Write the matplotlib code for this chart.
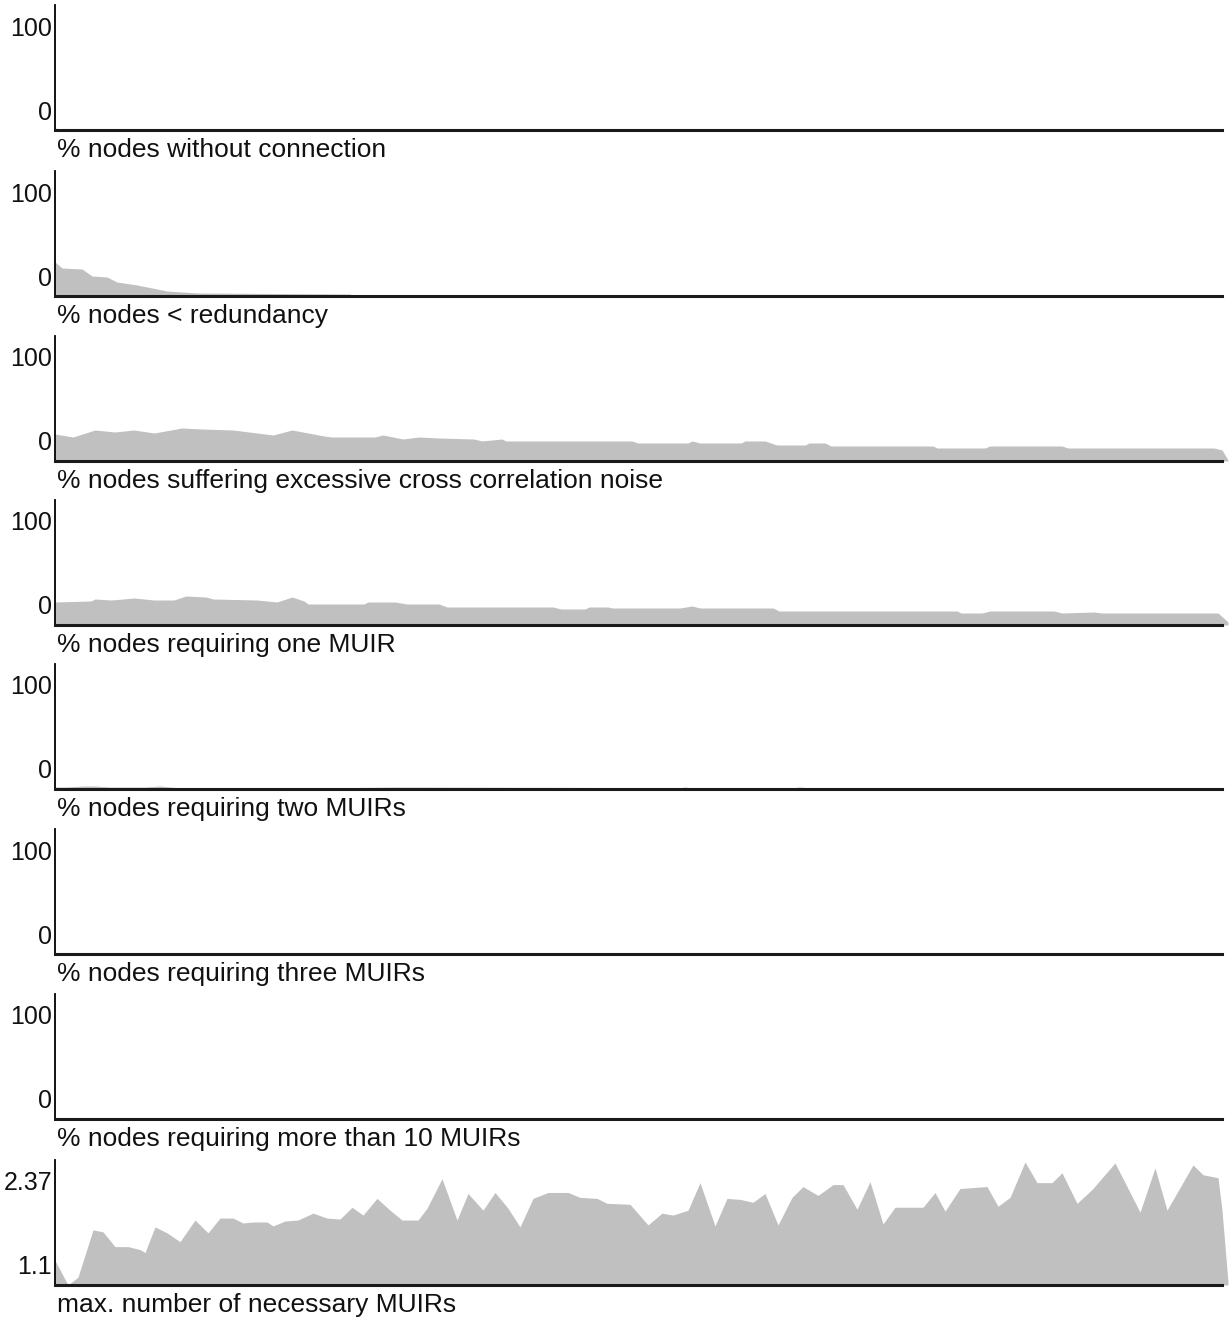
import numpy as np
import matplotlib
matplotlib.use('Agg')
import matplotlib.pyplot as plt

# ---- data (x = simulation step) ----
conn_x = [0, 0.5, 7.5, 8.0, 11.0, 12.0, 13.0, 117.3]
conn_y = [1.6, 0.8, 0.8, 0.0, 0.0, 1.2, 0.0, 0.0]

red_x = [0, 0.7, 2.7, 3.7, 5.2, 6.2, 8.2, 10.2, 11.2, 14.2, 29.5, 29.8, 117.3]
red_y = [27.2, 22.4, 21.6, 16.0, 15.2, 11.2, 8.8, 5.6, 4.0, 2.4, 1.6, 0.0, 0.0]

noise_x = [0, 1.8, 4.0, 6.0, 7.9, 9.9, 12.7, 14.7, 17.8, 21.8, 23.7, 26.9, 27.7,
           32.0, 32.8, 34.8, 36.4, 38.4, 41.9, 42.7, 44.7, 45.1, 57.7, 58.3, 63.3,
           63.7, 64.5, 68.6, 69.0, 71.0, 72.2, 75.0, 75.4, 77.0, 77.6, 87.8, 88.2,
           93.0, 93.5, 100.7, 101.3, 115.9, 116.7, 117.3]
noise_y = [21.6, 19.2, 24.8, 23.2, 24.8, 22.4, 26.4, 25.6, 24.8, 20.8, 24.8, 20.0, 19.2,
           19.2, 20.8, 17.6, 19.2, 18.4, 17.6, 16.0, 17.6, 16.0, 16.0, 14.4, 14.4,
           16.0, 14.4, 14.4, 16.0, 16.0, 12.8, 12.8, 14.4, 14.4, 12.0, 12.0, 10.4,
           10.4, 12.0, 12.0, 10.4, 10.4, 8.8, 0.8]

one_x = [0, 3.6, 4.0, 5.6, 6.8, 7.9, 9.9, 11.9, 13.1, 15.1, 15.8, 20.2, 22.2, 23.7,
         24.9, 25.3, 30.9, 31.3, 34.0, 35.2, 38.4, 39.2, 41.9, 42.7, 49.8, 50.6,
         53.0, 53.4, 55.3, 55.7, 62.5, 63.7, 64.5, 71.8, 72.4, 90.2, 90.6, 92.7,
         93.5, 99.9, 100.7, 103.9, 104.7, 116.3, 117.3]
one_y = [18.4, 19.2, 20.8, 20.0, 20.8, 21.6, 20.0, 20.0, 23.2, 22.4, 20.8, 20.0, 18.4,
         22.4, 19.2, 16.8, 16.8, 18.4, 18.4, 16.8, 16.8, 14.4, 14.4, 14.4, 14.4,
         12.8, 12.8, 14.4, 14.4, 13.6, 13.6, 15.2, 13.6, 13.6, 11.2, 11.2, 9.6, 9.6,
         11.2, 11.2, 9.6, 10.4, 9.6, 9.6, 2.4]

two_x = [0, 1.0, 3.0, 4.0, 5.5, 9.0, 10.5, 12.0, 30.0, 34.0, 55.5, 56.0, 62.0, 63.0,
         64.0, 73.0, 74.5, 76.0, 117.3]
two_y = [1.6, 1.6, 2.4, 2.4, 1.6, 1.6, 2.4, 1.2, 1.2, 1.6, 1.2, 0.4, 0.4, 1.6,
         0.4, 0.4, 1.6, 0.4, 0.0]

three_x = [0, 2.5, 3.5, 5.0, 7.5, 8.5, 10.0, 63.0, 64.5, 66.0, 117.3]
three_y = [0.4, 0.4, 1.0, 0.4, 0.4, 1.0, 0.4, 0.2, 0.8, 0.2, 0.0]

ten_x = [0, 117.3]
ten_y = [0.0, 0.0]

max_x = [0.0, 1.3, 2.3, 3.8, 4.8, 6.0, 7.3, 8.5, 9.0, 10.0, 11.2, 12.5, 14.0, 15.3,
         16.5, 17.8, 18.8, 19.8, 21.2, 21.8, 23.0, 24.3, 25.8, 27.2, 28.5, 29.7,
         30.8, 32.2, 33.5, 34.7, 36.3, 37.2, 38.7, 40.2, 41.3, 42.8, 44.0, 45.3,
         46.5, 47.8, 49.3, 51.3, 52.5, 54.2, 55.2, 57.5, 59.3, 60.7, 61.8, 63.3,
         64.5, 66.0, 67.2, 68.5, 69.8, 71.0, 72.3, 73.7, 74.8, 76.3, 77.8, 78.8,
         80.2, 81.5, 82.8, 84.0, 86.8, 88.0, 89.0, 90.5, 93.2, 94.3, 95.5, 97.0,
         98.2, 99.7, 100.7, 102.2, 103.7, 106.0, 108.5, 110.0, 111.2, 113.8, 114.8,
         116.3, 116.7, 117.3]
max_y = [1.35, 1.10, 1.18, 1.66, 1.64, 1.49, 1.49, 1.46, 1.43, 1.69, 1.63, 1.54, 1.76,
         1.63, 1.78, 1.78, 1.73, 1.74, 1.74, 1.70, 1.75, 1.76, 1.83, 1.78, 1.77, 1.89,
         1.81, 1.98, 1.86, 1.76, 1.76, 1.88, 2.18, 1.76, 2.03, 1.86, 2.04, 1.88, 1.69,
         1.98, 2.04, 2.04, 1.99, 1.98, 1.93, 1.92, 1.71, 1.83, 1.81, 1.86, 2.14, 1.70,
         1.98, 1.97, 1.94, 2.03, 1.71, 1.99, 2.10, 2.01, 2.12, 2.12, 1.87, 2.15, 1.72,
         1.89, 1.89, 2.04, 1.85, 2.08, 2.10, 1.90, 1.99, 2.35, 2.14, 2.14, 2.24, 1.93,
         2.07, 2.34, 1.84, 2.29, 1.86, 2.32, 2.22, 2.19, 1.86, 1.13]

titles = ['% nodes without connection',
          '% nodes < redundancy',
          '% nodes suffering excessive cross correlation noise',
          '% nodes requiring one MUIR',
          '% nodes requiring two MUIRs',
          '% nodes requiring three MUIRs',
          '% nodes requiring more than 10 MUIRs',
          'max. number of necessary MUIRs']
series = [(conn_x, conn_y), (red_x, red_y), (noise_x, noise_y), (one_x, one_y),
          (two_x, two_y), (three_x, three_y), (ten_x, ten_y), (max_x, max_y)]
ranges = [(0, 100)] * 7 + [(1.1, 2.37)]
range_labels = [('0', '100')] * 7 + [('1.1', '2.37')]

W, H = 1229, 1319
fig = plt.figure(figsize=(W / 100, H / 100), dpi=100)
font = ['Liberation Sans Narrow', 'Liberation Sans', 'DejaVu Sans']

baselines = [130, 296, 461, 625, 789, 954, 1119, 1285]
for i, base in enumerate(baselines):
    ax = fig.add_axes([55 / W, 1 - base / H, (1228 - 55) / W, 125 / H])
    xs, ys = series[i]
    lo, hi = ranges[i]
    ax.fill_between(xs, ys, lo, color='#c0c0c0', lw=0)
    ax.set_xlim(0, 117.3)
    ax.set_ylim(lo, hi)
    for s in ['top', 'right']:
        ax.spines[s].set_visible(False)
    ax.spines['left'].set_linewidth(1.3)
    ax.spines['left'].set_color('black')
    ax.spines['bottom'].set_linewidth(2.2)
    ax.spines['bottom'].set_color('#1a1a1a')
    ax.spines['bottom'].set_bounds(0, 116.7)
    ax.set_xticks([])
    ax.set_yticks([lo + 0.16 * (hi - lo), lo + 0.832 * (hi - lo)])
    ax.set_yticklabels(range_labels[i], fontsize=18, family=font, color='#111111')
    ax.tick_params(axis='y', length=0, pad=2)
    ax.text(0.002, -0.16, titles[i], transform=ax.transAxes, ha='left', va='center',
            fontsize=19, family=font, color='#111111')

fig.savefig('out.png', dpi=100, facecolor='white')
